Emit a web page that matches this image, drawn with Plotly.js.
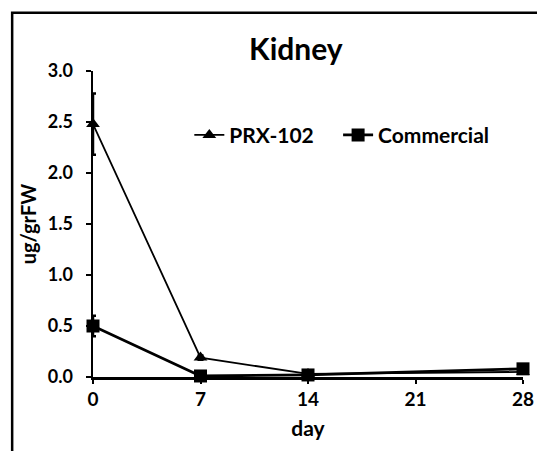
<!DOCTYPE html>
<html><head><meta charset="utf-8">
<script src="https://cdn.plot.ly/plotly-3.0.1.min.js"></script>
<style>body{margin:0;background:#fff}</style>
</head><body>
<div id="chart" style="width:537px;height:451px"></div>
<script>
const days = [0, 7, 14, 28];
const prxValues = [2.48, 0.19, 0.03, 0.05];
const prxErrors = [0.3, 0.02, 0.01, 0.01];
const commercialValues = [0.5, 0.01, 0.02, 0.08];
const commercialErrors = [0.1, 0.01, 0.01, 0.01];
const xTicks = [0, 7, 14, 21, 28];
const yTicks = [0, 0.5, 1.0, 1.5, 2.0, 2.5, 3.0];

const F = 'Lato, "Open Sans", sans-serif';
const traces = [
  {x: days, y: prxValues, name: 'PRX-102', mode: 'lines+markers', cliponaxis: false, legend: 'legend',
   line: {color: '#000', width: 1.8},
   marker: {symbol: 'triangle-up', size: 12, color: '#000'},
   error_y: {type: 'data', array: prxErrors, color: '#000', thickness: 2.5, width: 3}},
  {x: days, y: commercialValues, name: 'Commercial', mode: 'lines+markers', cliponaxis: false, legend: 'legend2',
   line: {color: '#000', width: 2.8},
   marker: {symbol: 'square', size: 13, color: '#000'},
   error_y: {type: 'data', array: commercialErrors, color: '#000', thickness: 2.5, width: 3}}
];
const legendStyle = {orientation: 'h', y: 0.79, xanchor: 'left', yanchor: 'middle',
  font: {size: 21, family: F, weight: 'bold'}, bgcolor: 'rgba(0,0,0,0)', itemwidth: 30};
const layout = {
  width: 537, height: 451,
  margin: {l: 93, r: 14, t: 71, b: 74},
  paper_bgcolor: '#fff', plot_bgcolor: '#fff',
  font: {family: F, color: '#000', weight: 'bold'},
  title: {text: 'Kidney', font: {size: 30, family: F, weight: 'bold'}, x: 0.551, xanchor: 'center', y: 0.89, yanchor: 'middle'},
  showlegend: true,
  legend: Object.assign({x: 0.224}, legendStyle),
  legend2: Object.assign({x: 0.57}, legendStyle),
  xaxis: {range: [0, 28], tickvals: xTicks, ticktext: xTicks.map(String),
    showgrid: false, zeroline: false, showline: true, linecolor: '#000', linewidth: 2.5,
    ticks: 'outside', ticklen: 4, tickwidth: 2, tickcolor: '#000',
    tickfont: {size: 19, family: F, weight: 'bold'},
    title: {text: 'day', font: {size: 21, family: F, weight: 'bold'}, standoff: 12}},
  yaxis: {range: [0, 3], tickvals: yTicks, ticktext: yTicks.map(v => v.toFixed(1)),
    showgrid: false, zeroline: false, showline: true, linecolor: '#000', linewidth: 2.5,
    ticks: 'outside', ticklen: 5, tickwidth: 2, tickcolor: '#000', ticklabelstandoff: 9,
    tickfont: {size: 18, family: F, weight: 'bold'},
    title: {text: 'ug/grFW', font: {size: 20, family: F, weight: 'bold'}, standoff: 6}},
  shapes: [{type: 'rect', xref: 'paper', yref: 'paper', x0: -0.188, x1: 1.2, y0: -0.3, y1: 1.19,
    line: {color: '#000', width: 2.5}, fillcolor: 'rgba(0,0,0,0)', layer: 'below'}]
};
Plotly.newPlot('chart', traces, layout, {displayModeBar: false, staticPlot: true});
</script>
</body></html>
